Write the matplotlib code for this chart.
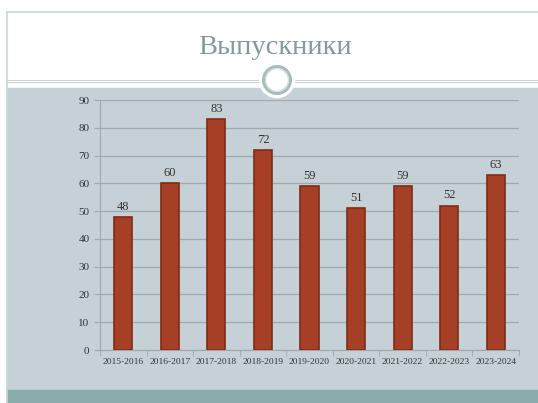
import matplotlib.pyplot as plt
from matplotlib.patches import Rectangle, Circle

years = ['2015-2016', '2016-2017', '2017-2018', '2018-2019', '2019-2020',
         '2020-2021', '2021-2022', '2022-2023', '2023-2024']
graduates = [48, 60, 83, 72, 59, 51, 59, 52, 63]

W, H = 538, 403
fig = plt.figure(figsize=(W / 100, H / 100), dpi=100)
fig.patch.set_facecolor('white')

# background axes in pixel coordinates (y down) for slide decoration
bg = fig.add_axes([0, 0, 1, 1], zorder=-5)
bg.set_xlim(0, W)
bg.set_ylim(H, 0)
bg.axis('off')
bg.add_patch(Rectangle((7, 88), W, 302, color='#c6d1d7'))
bg.add_patch(Rectangle((7, 390), W, 20, color='#8badad'))
bg.plot([7, W], [12, 12], color='#c8d8d8', lw=1.2)
bg.plot([7, 7], [12, H], color='#c8d8d8', lw=1.2)
for yy in (79.5, 82):
    bg.plot([7, W], [yy, yy], color='#c8d4d4', lw=0.7)
bg.add_patch(Circle((277, 80), 17.5, color='white', zorder=5))
bg.add_patch(Circle((277, 80), 13.5, fill=False, ec='#a9bcbc', lw=2.2, zorder=6))
bg.add_patch(Circle((277, 80), 11.3, fill=False, ec='#d0dcdc', lw=0.8, zorder=6))
bg.text(275, 47, 'Выпускники', ha='center', va='center',
        fontsize=20.5, color='#7f9b9b', family='Liberation Serif')

ax = fig.add_axes([100 / W, 1 - 350 / H, (519 - 100) / W, 250 / H], zorder=1)
ax.set_facecolor('none')
x = range(len(years))
ax.bar(x, graduates, width=0.39, color='#a53f26', edgecolor='#7e2c18',
       linewidth=1.2, zorder=3)
for i, v in zip(x, graduates):
    ax.text(i, v + 1.5, str(v), ha='center', va='bottom', fontsize=9,
            color='#333333', family='Liberation Serif')
ax.set_ylim(0, 90)
ax.set_xlim(-0.5, len(years) - 0.5)
ax.set_yticks(range(0, 91, 10))
ax.set_xticks(list(x))
ax.set_xticklabels(years, fontsize=6.8, family='Liberation Serif', color='#333333')
ax.tick_params(axis='y', labelsize=8, colors='#333333', length=4, color='#a0a8ac')
ax.tick_params(axis='x', length=0, pad=6)
for lab in ax.get_yticklabels():
    lab.set_family('Liberation Serif')
ax.grid(axis='y', color='#a0a8ac', lw=0.9, zorder=0)
for s in ('top', 'right'):
    ax.spines[s].set_visible(False)
ax.spines['left'].set_color('#a0a8ac')
ax.spines['bottom'].set_color('#a0a8ac')
ax.set_xticks([i + 0.5 for i in range(-1, len(years))], minor=True)
ax.tick_params(axis='x', which='minor', length=4, color='#a0a8ac')

fig.savefig('out.png', dpi=100)
